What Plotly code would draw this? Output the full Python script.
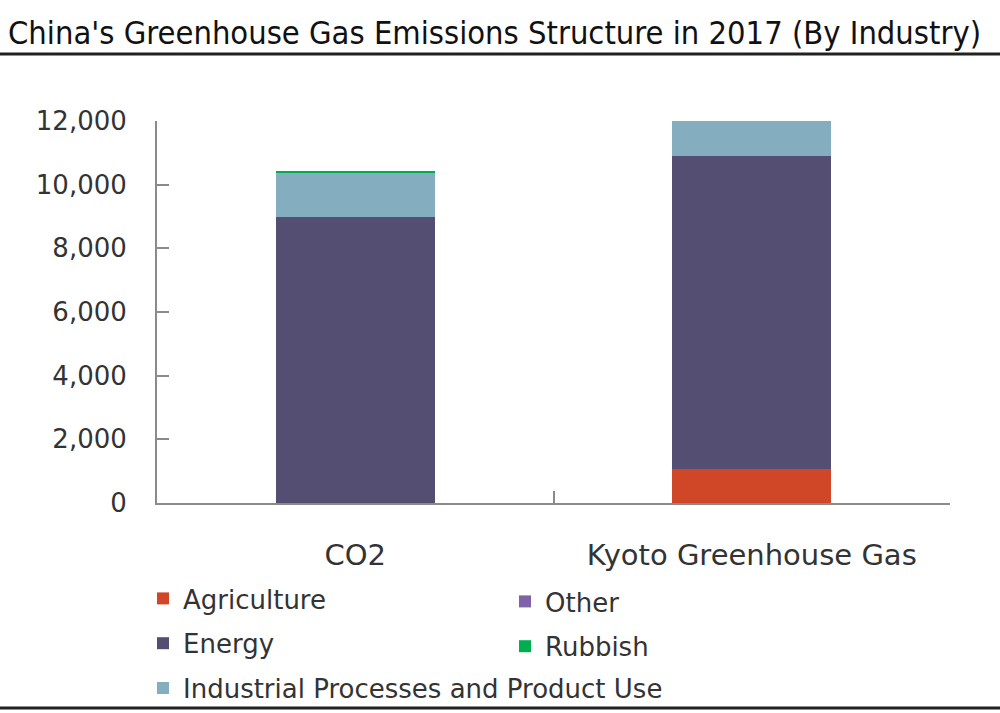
import plotly.graph_objects as go

categories = ["CO2", "Kyoto Greenhouse Gas"]
agriculture = [0, 1060]
energy = [9000, 9850]
industrial = [1390, 1090]
other = [0, 0]
rubbish = [45, 0]
y_ticks = [0, 2000, 4000, 6000, 8000, 10000, 12000]
y_tick_labels = ["0", "2,000", "4,000", "6,000", "8,000", "10,000", "12,000"]

series = [
    ("Agriculture", agriculture, "#CF4727", "legend"),
    ("Energy", energy, "#544F72", "legend"),
    ("Industrial Processes and Product Use", industrial, "#84ADC0", "legend"),
    ("Other", other, "#8062A8", "legend2"),
    ("Rubbish", rubbish, "#00AE52", "legend2"),
]

W, H = 1000, 713
ml, mr, mt, mb = 157, 50, 121, 210
pw = W - ml - mr
ph = H - mt - mb

fig = go.Figure()
for i, (name, vals, col, lg) in enumerate(series):
    fig.add_trace(go.Bar(
        x=categories, y=vals, name=name, marker=dict(color=col, line=dict(width=0)),
        width=0.4, legend=lg, legendgroup=name,
    ))

def px_x(p):
    return (p - ml) / pw

def px_y(p):
    return 1 - (p - mt) / ph

font_main = "DejaVu Sans"

fig.update_layout(
    width=W, height=H,
    margin=dict(l=ml, r=mr, t=mt, b=mb, pad=0, autoexpand=False),
    paper_bgcolor="white", plot_bgcolor="white",
    barmode="stack", bargap=0.6,
    showlegend=True,
    title=dict(
        text="China's Greenhouse Gas Emissions Structure in 2017 (By Industry)",
        x=8 / W, xanchor="left", xref="container",
        y=1 - 33 / H, yanchor="middle", yref="container",
        font=dict(family="DejaVu Sans Condensed, DejaVu Sans", size=32.4, color="#111"),
    ),
    xaxis=dict(
        showline=True, linecolor="#8a8a8a", linewidth=2,
        ticks="inside", tickson="boundaries", ticklen=12, tickcolor="#8a8a8a", tickwidth=2,
        tickfont=dict(family=font_main, size=29, color="#333"),
        ticklabelstandoff=25,
        showgrid=False, zeroline=False,
    ),
    yaxis=dict(
        range=[0, 12000], tickvals=y_ticks, ticktext=y_tick_labels,
        showline=True, linecolor="#8a8a8a", linewidth=2,
        ticks="inside", ticklen=12, tickcolor="#8a8a8a", tickwidth=2,
        tickfont=dict(family=font_main, size=26, color="#333"),
        ticklabelstandoff=23,
        showgrid=False, zeroline=False,
    ),
    legend=dict(
        x=px_x(143), y=px_y(575), xanchor="left", yanchor="top",
        font=dict(family=font_main, size=26, color="#333"),
        bgcolor="rgba(0,0,0,0)", tracegroupgap=8, traceorder="grouped",
    ),
    legend2=dict(
        x=px_x(505), y=px_y(578), xanchor="left", yanchor="top",
        font=dict(family=font_main, size=26, color="#333"),
        bgcolor="rgba(0,0,0,0)", tracegroupgap=8, traceorder="grouped",
    ),
    shapes=[
        dict(type="line", xref="paper", yref="paper",
             x0=px_x(0), x1=px_x(W), y0=px_y(54), y1=px_y(54),
             line=dict(color="#222", width=3)),
        dict(type="line", xref="paper", yref="paper",
             x0=px_x(0), x1=px_x(W), y0=px_y(708), y1=px_y(708),
             line=dict(color="#222", width=3)),
    ],
)

fig.write_html("out.html", config={"displayModeBar": False},
               post_script="document.body.style.margin='0px';document.body.style.overflow='hidden';")
